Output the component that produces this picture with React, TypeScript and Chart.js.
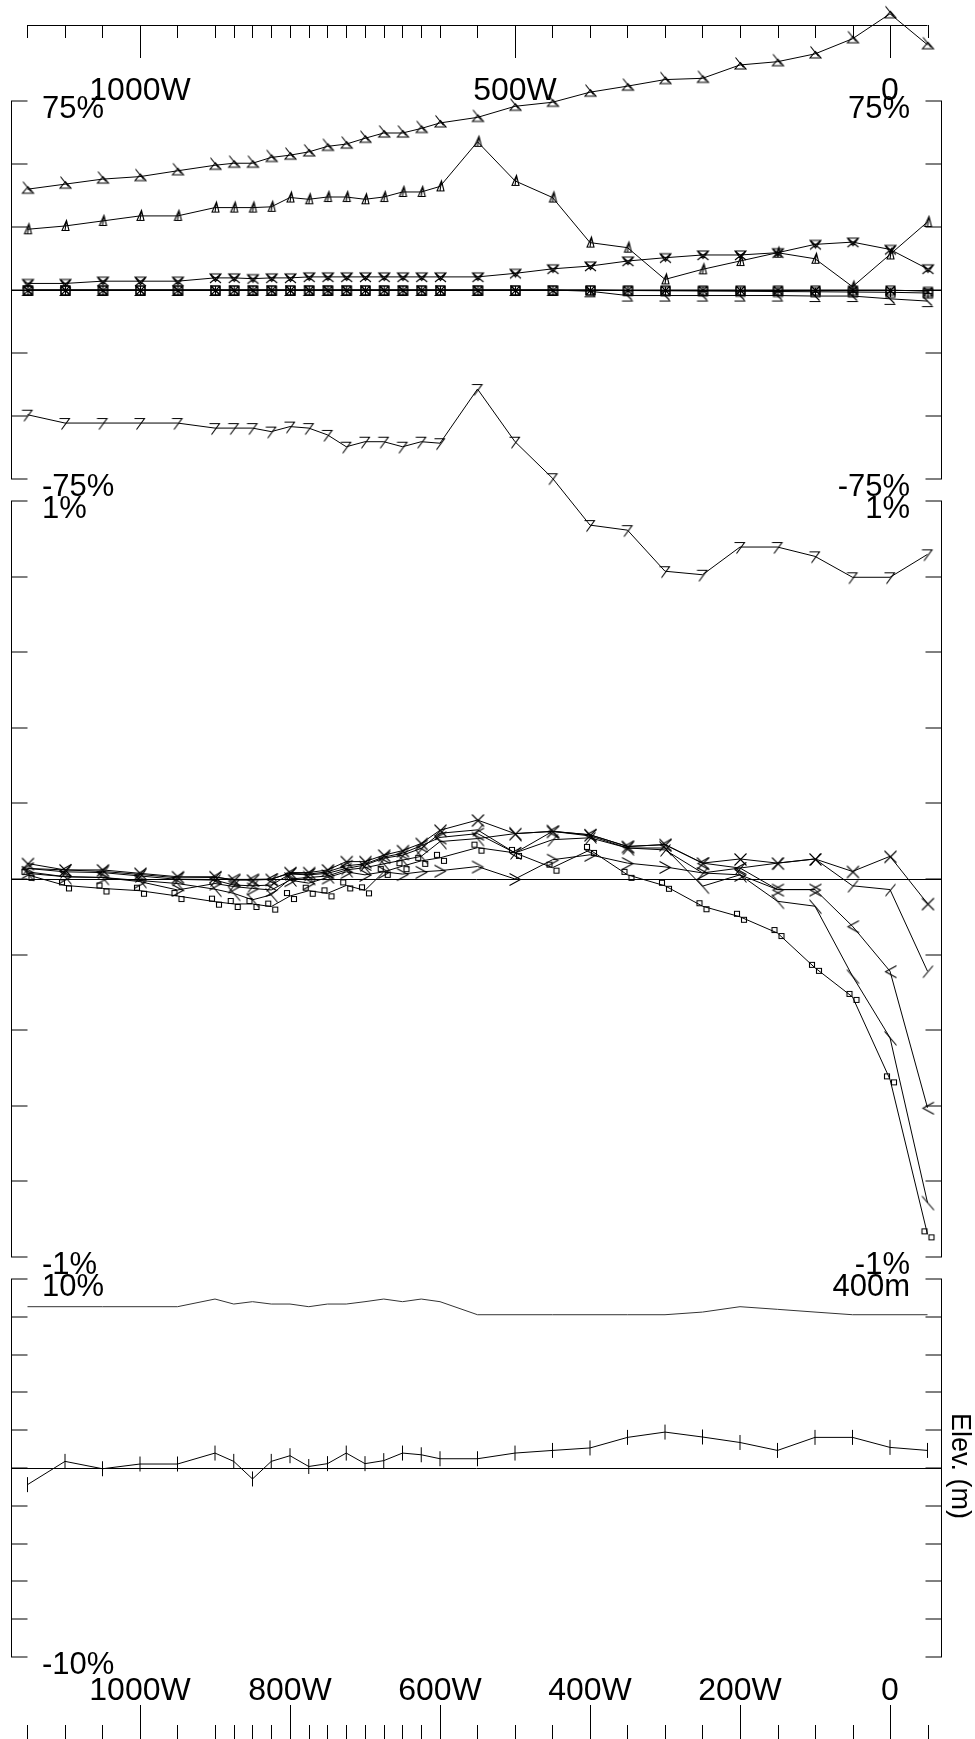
import React, { useEffect, useRef } from 'react';
import { Chart, registerables } from 'chart.js';

Chart.register(...registerables);

// ---------------- data ----------------
const stations = [1150, 1100, 1050, 1000, 950, 900, 875, 850, 825, 800, 775, 750, 725, 700, 675, 650, 625, 600, 550, 500, 450, 400, 350, 300, 250, 200, 150, 100, 50, 0, -50];

// panel 1 (percent)
const p1A = [40.0, 42.0, 44.0, 45.0, 47.3, 49.5, 50.3, 50.3, 52.6, 53.5, 54.8, 57.0, 57.9, 60.2, 62.3, 62.3, 64.1, 66.3, 68.5, 72.9, 74.5, 78.5, 80.9, 83.5, 84.0, 89.3, 90.6, 93.7, 99.7, 109.6, 97.3];
const p1B = [24.1, 25.4, 27.4, 29.4, 29.4, 32.7, 32.7, 32.7, 33.0, 36.7, 36.0, 36.9, 36.9, 36.0, 36.9, 38.9, 38.9, 41.1, 58.8, 43.3, 36.7, 18.8, 16.8, 4.2, 8.2, 11.5, 14.8, 12.4, 1.3, 14.1, 27.0];
const p1C = [2.6, 2.6, 3.5, 3.5, 3.5, 4.8, 4.8, 4.5, 4.8, 4.8, 5.2, 5.2, 5.2, 5.2, 5.2, 5.2, 5.2, 5.2, 5.2, 6.6, 8.4, 9.5, 11.5, 12.8, 13.9, 13.9, 14.8, 18.1, 19.0, 16.1, 8.4];
const p1D = [0, 0, 0, 0, 0, 0, 0, 0, 0, 0, 0, 0, 0, 0, 0, 0, 0, 0, 0, 0, 0, 0, -0.2, -0.3, -0.4, -0.5, -0.6, -0.7, -0.8, -0.9, -1.2];
const p1E = [0, 0, 0, 0, 0, 0, 0, 0, 0, 0, 0, 0, 0, 0, 0, 0, 0, 0, 0, 0, 0, 0, 0, 0, 0, 0, 0, 0, 0, 0, -0.5];
const p1F = [0, 0, 0, 0, 0, 0, 0, 0, 0, 0, 0, 0, 0, 0, 0, 0, 0, 0, 0, 0, 0, -0.5, -2.2, -2.2, -2.2, -2.2, -2.2, -2.4, -2.4, -3.5, -4.4];
const p1G = [-49.5, -52.8, -52.8, -52.8, -52.8, -54.8, -54.8, -54.8, -56.2, -54.2, -54.8, -57.5, -62.2, -60.2, -60.2, -62.2, -60.2, -60.8, -39.3, -60.2, -74.7, -93.3, -95.3, -111.6, -113.0, -102.0, -102.0, -105.7, -114.0, -114.0, -104.9];

// panel 2 (percent)
const p2Top = [0.041, 0.024, 0.024, 0.015, 0.006, 0.006, -0.003, -0.003, -0.001, 0.017, 0.017, 0.024, 0.046, 0.046, 0.063, 0.075, 0.094, 0.129, 0.156, 0.120, 0.126, 0.117, 0.086, 0.091, 0.042, 0.053, 0.042, 0.053, 0.020, 0.060, -0.065];
const p2Slash = [0.028, 0.019, 0.017, 0.008, -0.001, -0.003, -0.016, -0.018, -0.016, 0.013, 0.011, 0.015, 0.028, 0.037, 0.055, 0.063, 0.081, 0.121, 0.130, 0.069, 0.104, 0.109, 0.082, 0.077, 0.016, 0.029, 0.042, 0.053, -0.018, -0.028, -0.244];
const p2Lt = [0.028, 0.024, 0.020, 0.012, 0.003, 0.004, -0.001, -0.001, 0.000, 0.015, 0.013, 0.019, 0.035, 0.040, 0.058, 0.068, 0.088, 0.110, 0.120, 0.069, 0.126, 0.117, 0.086, 0.091, 0.042, 0.029, -0.028, -0.028, -0.125, -0.244, -0.605];
const p2Gt = [0.019, 0.006, 0.004, -0.007, -0.029, -0.012, -0.020, -0.025, -0.029, -0.003, -0.011, 0.004, 0.019, 0.011, 0.019, 0.013, 0.019, 0.022, 0.033, 0.000, 0.051, 0.064, 0.042, 0.032, 0.016, 0.011, -0.028, -0.028, null, null, null];
const p2Bk = [0.015, 0.006, 0.004, -0.004, -0.012, -0.027, -0.038, -0.055, -0.042, 0.000, 0.004, 0.008, 0.024, 0.030, 0.040, 0.050, 0.060, 0.099, 0.107, 0.120, 0.126, 0.114, 0.082, 0.082, -0.019, 0.011, -0.059, -0.072, -0.257, -0.420, -0.856];
const p2Sq = [0.011, -0.017, -0.025, -0.031, -0.045, -0.060, -0.066, -0.066, -0.073, -0.045, -0.031, -0.038, -0.017, -0.030, 0.019, 0.034, 0.048, 0.056, 0.083, 0.069, 0.030, 0.077, 0.011, -0.018, -0.072, -0.100, -0.143, -0.235, -0.312, -0.530, -0.940];

// panel 3
const p3Grad = [-0.88, 0.35, -0.04, 0.21, 0.21, 0.79, 0.35, -0.58, 0.35, 0.65, 0.08, 0.23, 0.79, 0.23, 0.39, 0.79, 0.70, 0.49, 0.49, 0.79, 0.93, 1.06, 1.62, 1.90, 1.64, 1.35, 0.93, 1.62, 1.62, 1.09, 0.93];
const p3Elev = [370.7, 370.7, 370.7, 370.7, 370.7, 378.8, 373.5, 376, 373.5, 373.5, 370.7, 373.5, 373.5, 376, 378.8, 376, 378.8, 376, 362.2, 362.2, 362.2, 362.2, 362.2, 362.2, 365, 370.7, 367.9, 365, 362.2, 362.2, 362.2];

// axis labels
const topTickValues = [1000, 500, 0];
const topTickLabels = ['1000W', '500W', '0'];
const bottomTickValues = [1000, 800, 600, 400, 200, 0];
const bottomTickLabels = ['1000W', '800W', '600W', '400W', '200W', '0'];

// ---------------- layout ----------------
const W = 975;
const H = 1739;
const X0_PX = 890; // pixel of value 0
const X1000_PX = 140; // pixel of value 1000
const LEFT_X = 11.5;
const RIGHT_X = 941.5;
const TICK_LEN = 16;
const TOP_AXIS_Y = 25;
const FONT = '"Liberation Sans", Arial, Helvetica, sans-serif';

const panels = [
  { axis: 'y1', top: 101, bottom: 479, lo: -75, hi: 75, step: 25, lt: '75%', lb: '-75%', rt: '75%', rb: '-75%' },
  { axis: 'y2', top: 501, bottom: 1257, lo: -1, hi: 1, step: 0.2, lt: '1%', lb: '-1%', rt: '1%', rb: '-1%' },
  { axis: 'y3', top: 1279, bottom: 1657, lo: -10, hi: 10, step: 2, lt: '10%', lb: '-10%', rt: '400m', rb: '' },
];
const ELEV_LO = 0;
const ELEV_HI = 400;

function rangeFor(lo: number, hi: number, top: number, bottom: number) {
  const k = (hi - lo) / (bottom - top);
  return { min: lo - (H - bottom) * k, max: hi + top * k };
}

function xRange() {
  const k = 1000 / (X0_PX - X1000_PX);
  return { min: -(W - X0_PX) * k, max: X0_PX * k };
}

function mk(draw: (c: CanvasRenderingContext2D) => void) {
  const s = 26;
  const cv = document.createElement('canvas');
  cv.width = s;
  cv.height = s;
  const c = cv.getContext('2d') as CanvasRenderingContext2D;
  c.translate(s / 2 + 0.5, s / 2 + 0.5);
  c.strokeStyle = '#000';
  c.lineWidth = 1.1;
  c.beginPath();
  draw(c);
  c.stroke();
  return cv;
}

function makeMarkers() {
  return {
    triBk: mk((c) => { c.moveTo(0, -3); c.lineTo(5.5, 3.5); c.lineTo(-5.5, 3.5); c.closePath(); c.moveTo(-5, -8); c.lineTo(3, 2); }),
    triTick: mk((c) => { c.moveTo(1, -6); c.lineTo(3.5, 4); c.lineTo(-3.5, 4); c.closePath(); c.moveTo(1, -6); c.lineTo(-0.5, 4); }),
    invX: mk((c) => { c.moveTo(-5.5, -4.5); c.lineTo(5.5, -4.5); c.lineTo(0, 3); c.closePath(); c.moveTo(-5.5, -4.5); c.lineTo(5.5, 4.5); c.moveTo(5.5, -4.5); c.lineTo(-5.5, 4.5); }),
    sqPlus: mk((c) => { c.rect(-4.5, -4.5, 9, 9); c.moveTo(0, -4.5); c.lineTo(0, 4.5); c.moveTo(-4.5, 0); c.lineTo(4.5, 0); }),
    sqX: mk((c) => { c.rect(-4.5, -4.5, 9, 9); c.moveTo(-4.5, -4.5); c.lineTo(4.5, 4.5); c.moveTo(4.5, -4.5); c.lineTo(-4.5, 4.5); }),
    zed: mk((c) => { c.moveTo(-5, -5); c.lineTo(4, 4); c.moveTo(-6, 5); c.lineTo(5, 5); }),
    seven: mk((c) => { c.moveTo(-6, -5); c.lineTo(4, -5); c.lineTo(-4, 6); }),
    cross: mk((c) => { c.moveTo(-6, -6); c.lineTo(6, 6); c.moveTo(6, -6); c.lineTo(-6, 6); }),
    slash: mk((c) => { c.moveTo(-5, 6); c.lineTo(5, -6); }),
    lt: mk((c) => { c.moveTo(6, -6); c.lineTo(-5, 0); c.lineTo(6, 6); }),
    gt: mk((c) => { c.moveTo(-6, -6); c.lineTo(5, 0); c.lineTo(-6, 6); }),
    bk: mk((c) => { c.moveTo(-6, -7); c.lineTo(6, 7); }),
    dsq: mk((c) => { c.rect(-6, -6, 5, 5); c.rect(1, 0, 5, 5); }),
  };
}

function series(vals: (number | null)[]) {
  return stations.map((s, i) => ({ x: s, y: vals[i] }));
}

const framePlugin = {
  id: 'frame',
  beforeDatasetsDraw(chart: any) {
    const ctx = chart.ctx as CanvasRenderingContext2D;
    const xs = chart.scales.x;
    const seg = (x1: number, y1: number, x2: number, y2: number) => {
      ctx.beginPath();
      ctx.moveTo(x1, y1);
      ctx.lineTo(x2, y2);
      ctx.stroke();
    };
    ctx.save();
    ctx.strokeStyle = '#000';
    ctx.lineWidth = 1;
    // top axis
    const xf = xs.getPixelForValue(stations[0]);
    const xl = xs.getPixelForValue(stations[stations.length - 1]);
    seg(xf, TOP_AXIS_Y + 0.5, xl, TOP_AXIS_Y + 0.5);
    stations.forEach((s) => {
      const px = Math.round(xs.getPixelForValue(s)) + 0.5;
      const long = topTickValues.includes(s);
      seg(px, TOP_AXIS_Y, px, TOP_AXIS_Y + (long ? 33 : 13));
    });
    // bottom axis ticks
    stations.forEach((s) => {
      const px = Math.round(xs.getPixelForValue(s)) + 0.5;
      const long = bottomTickValues.includes(s);
      seg(px, H, px, long ? H - 34 : H - 14);
    });
    // panels
    panels.forEach((p) => {
      const ys = chart.scales[p.axis];
      const top = ys.getPixelForValue(p.hi);
      const bot = ys.getPixelForValue(p.lo);
      seg(LEFT_X, top, LEFT_X, bot);
      seg(RIGHT_X, top, RIGHT_X, bot);
      const n = Math.round((p.hi - p.lo) / p.step);
      for (let i = 0; i <= n; i++) {
        const v = p.lo + i * p.step;
        const y = Math.round(ys.getPixelForValue(v));
        seg(LEFT_X - 0.5, y, LEFT_X + TICK_LEN, y);
        seg(RIGHT_X - TICK_LEN, y, RIGHT_X + 0.5, y);
      }
      const y0 = Math.round(ys.getPixelForValue(0)) + 0.5;
      seg(LEFT_X, y0, RIGHT_X, y0);
    });
    ctx.restore();
  },
  afterDatasetsDraw(chart: any) {
    const ctx = chart.ctx as CanvasRenderingContext2D;
    const xs = chart.scales.x;
    ctx.save();
    ctx.fillStyle = '#000';
    ctx.textBaseline = 'alphabetic';
    // x labels
    ctx.font = '32px ' + FONT;
    ctx.textAlign = 'center';
    topTickValues.forEach((v, i) => ctx.fillText(topTickLabels[i], xs.getPixelForValue(v), 100));
    bottomTickValues.forEach((v, i) => ctx.fillText(bottomTickLabels[i], xs.getPixelForValue(v), 1700));
    // panel labels
    ctx.font = '31px ' + FONT;
    panels.forEach((p) => {
      const ys = chart.scales[p.axis];
      const top = ys.getPixelForValue(p.hi);
      const bot = ys.getPixelForValue(p.lo);
      ctx.textAlign = 'left';
      ctx.fillText(p.lt, 42, top + 17);
      ctx.fillText(p.lb, 42, bot + 17);
      ctx.textAlign = 'right';
      ctx.fillText(p.rt, 910, top + 17);
      if (p.rb) ctx.fillText(p.rb, 910, bot + 17);
    });
    // elevation title
    ctx.save();
    ctx.translate(952, 1413);
    ctx.rotate(Math.PI / 2);
    ctx.font = '27px ' + FONT;
    ctx.textAlign = 'left';
    ctx.fillText('Elev. (m)', 0, 0);
    ctx.restore();
    ctx.restore();
  },
};

export default function App() {
  const ref = useRef<HTMLCanvasElement>(null);
  useEffect(() => {
    const canvas = ref.current;
    if (!canvas) return;
    const M = makeMarkers();
    const base = { borderColor: '#000', borderWidth: 1, backgroundColor: 'transparent', tension: 0, fill: false, clip: false as any, pointRadius: 5, spanGaps: false };
    const r1 = rangeFor(panels[0].lo, panels[0].hi, panels[0].top, panels[0].bottom);
    const r2 = rangeFor(panels[1].lo, panels[1].hi, panels[1].top, panels[1].bottom);
    const r3 = rangeFor(panels[2].lo, panels[2].hi, panels[2].top, panels[2].bottom);
    const r3e = rangeFor(ELEV_LO, ELEV_HI, panels[2].top, panels[2].bottom);
    const xr = xRange();
    const chart = new Chart(canvas, {
      type: 'line',
      data: {
        datasets: [
          { ...base, data: series(p1A), yAxisID: 'y1', pointStyle: M.triBk },
          { ...base, data: series(p1B), yAxisID: 'y1', pointStyle: M.triTick },
          { ...base, data: series(p1C), yAxisID: 'y1', pointStyle: M.invX },
          { ...base, data: series(p1F), yAxisID: 'y1', pointStyle: M.zed },
          { ...base, data: series(p1D), yAxisID: 'y1', pointStyle: M.sqPlus },
          { ...base, data: series(p1E), yAxisID: 'y1', pointStyle: M.sqX },
          { ...base, data: series(p1G), yAxisID: 'y1', pointStyle: M.seven },
          { ...base, data: series(p2Top), yAxisID: 'y2', pointStyle: M.cross },
          { ...base, data: series(p2Slash), yAxisID: 'y2', pointStyle: M.slash },
          { ...base, data: series(p2Lt), yAxisID: 'y2', pointStyle: M.lt },
          { ...base, data: series(p2Gt), yAxisID: 'y2', pointStyle: M.gt },
          { ...base, data: series(p2Bk), yAxisID: 'y2', pointStyle: M.bk },
          { ...base, data: series(p2Sq), yAxisID: 'y2', pointStyle: M.dsq },
          { ...base, data: series(p3Grad), yAxisID: 'y3', pointStyle: 'line', rotation: 90, pointRadius: 7.5 },
          { ...base, data: series(p3Elev), yAxisID: 'y3e', pointRadius: 0, borderColor: '#333' },
        ] as any,
      },
      options: {
        animation: false,
        responsive: false,
        maintainAspectRatio: false,
        devicePixelRatio: 1,
        events: [],
        layout: { padding: 0, autoPadding: false },
        plugins: { legend: { display: false }, tooltip: { enabled: false }, title: { display: false } },
        scales: {
          x: { type: 'linear', display: false, min: xr.min, max: xr.max, reverse: true },
          y1: { type: 'linear', display: false, min: r1.min, max: r1.max },
          y2: { type: 'linear', display: false, min: r2.min, max: r2.max },
          y3: { type: 'linear', display: false, min: r3.min, max: r3.max },
          y3e: { type: 'linear', display: false, min: r3e.min, max: r3e.max },
        },
      } as any,
      plugins: [framePlugin as any],
    });
    return () => chart.destroy();
  }, []);
  return (
    <div style={{ position: 'absolute', left: 0, top: 0, width: W, height: H, background: '#fff' }}>
      <canvas ref={ref} width={W} height={H} style={{ display: 'block', width: W, height: H }} />
    </div>
  );
}
